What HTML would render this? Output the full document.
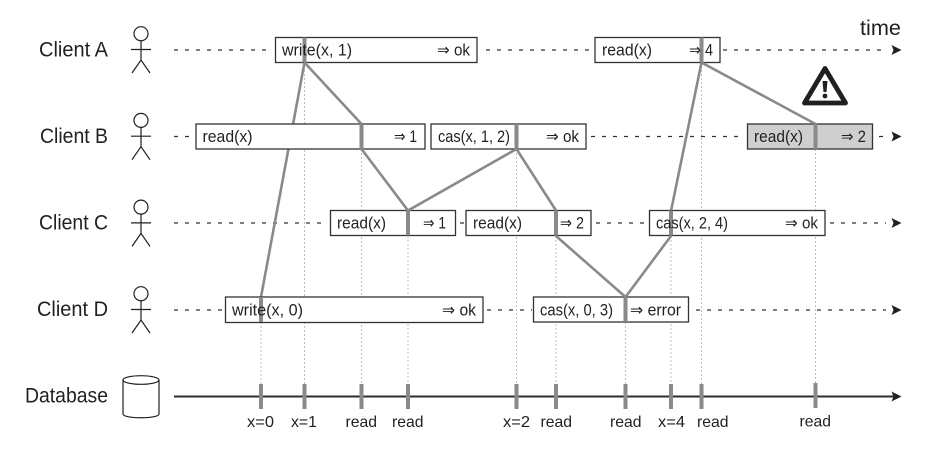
<!DOCTYPE html>
<html><head><meta charset="utf-8"><style>
html,body{margin:0;padding:0;background:#fff;width:925px;height:457px;overflow:hidden}
svg{display:block;filter:blur(0.35px)}
text{font-family:"Liberation Sans","DejaVu Sans",sans-serif;fill:#231f20}
.l{font-size:21px}
.b{font-size:16.5px}
.d{font-size:16px}
.box{fill:#fff;stroke:#333;stroke-width:1.3}
.dot{stroke:#bdbdbd;stroke-width:1;stroke-dasharray:2 2;fill:none}
.dash{stroke:#333;stroke-width:1.2;stroke-dasharray:4 7;fill:none}
.g{stroke:#8a8a8a;stroke-width:2.6;fill:none}
.t{fill:#8a8a8a}
.fig{stroke:#231f20;stroke-width:1.2;fill:none}
</style></head><body>
<svg width="925" height="457" viewBox="0 0 925 457" xmlns="http://www.w3.org/2000/svg">
<rect width="925" height="457" fill="#fff"/>

<!-- dotted -->
<path class="dot" d="M261 322V384M304.5 62V384M361.5 149V384M408 236V384M516.5 149V384M556 236V384M625.5 322V384M671 236V384M701.5 62V384M815.5 149V383"/>

<!-- dashed lifelines -->
<path class="dash" d="M174 50H272M486 50H592M723 50H886"/>
<path class="dash" d="M174 136.5H193M591 136.5H745M879 136.5H886"/>
<path class="dash" d="M174 223H328M460 223H464M596 223H648M830 223H886"/>
<path class="dash" d="M174 310H224M487 310H532M696 310H886"/>

<!-- arrowheads -->
<path d="M891.5 45L901.5 50L891.5 55L893.5 50Z" fill="#231f20"/>
<path d="M891.5 131.5L901.5 136.5L891.5 141.5L893.5 136.5Z" fill="#231f20"/>
<path d="M891.5 218L901.5 223L891.5 228L893.5 223Z" fill="#231f20"/>
<path d="M891.5 305L901.5 310L891.5 315L893.5 310Z" fill="#231f20"/>
<path d="M891.5 391.5L901.5 396.5L891.5 401.5L893.5 396.5Z" fill="#231f20"/>

<!-- database axis -->
<line x1="174" y1="396.5" x2="895" y2="396.5" stroke="#2f2b2b" stroke-width="1.9"/>

<!-- long line under boxes -->
<path class="g" d="M304.5 62.5L261 297"/>
<path class="g" d="M671 211L701.5 62.5"/>

<!-- boxes -->
<rect class="box" x="275.5" y="37.5" width="201.5" height="25"/>
<rect class="box" x="595" y="37.5" width="125" height="25"/>
<rect class="box" x="196" y="124" width="229" height="25"/>
<rect class="box" x="431" y="124" width="155" height="25"/>
<rect class="box" x="747.5" y="124" width="125" height="25" style="fill:#cfcfcf"/>
<rect class="box" x="330.5" y="210.5" width="125" height="25"/>
<rect class="box" x="466" y="210.5" width="125" height="25"/>
<rect class="box" x="649.5" y="210.5" width="175.5" height="25"/>
<rect class="box" x="225.5" y="297" width="257.5" height="25.5"/>
<rect class="box" x="533.5" y="297" width="155" height="25"/>

<!-- ticks in boxes -->
<rect class="t" x="302.5" y="37.5" width="4" height="25"/>
<rect class="t" x="699.5" y="37.5" width="4" height="25"/>
<rect class="t" x="359.5" y="124" width="4" height="25"/>
<rect class="t" x="514.5" y="124" width="4" height="25"/>
<rect class="t" x="813.5" y="124" width="4" height="25"/>
<rect class="t" x="406" y="210.5" width="4" height="25"/>
<rect class="t" x="554" y="210.5" width="4" height="25"/>
<rect class="t" x="669" y="210.5" width="4" height="25"/>
<rect class="t" x="259" y="297" width="4" height="25"/>
<rect class="t" x="623.5" y="297" width="4" height="25"/>

<!-- consistency lines -->
<path class="g" d="M304.5 62.5L361.5 124"/>
<path class="g" d="M361.5 149L408 210.5L516.5 149L556 210.5"/>
<path class="g" d="M556 236L625.5 297L671 236"/>
<path class="g" d="M701.5 62.5L815.5 124"/>

<!-- database ticks -->
<g class="t">
<rect x="259" y="384" width="4" height="25"/>
<rect x="302.5" y="384" width="4" height="25"/>
<rect x="359.5" y="384" width="4" height="25"/>
<rect x="406" y="384" width="4" height="25"/>
<rect x="514.5" y="384" width="4" height="25"/>
<rect x="554" y="384" width="4" height="25"/>
<rect x="623.5" y="384" width="4" height="25"/>
<rect x="669" y="384" width="4" height="25"/>
<rect x="699.5" y="384" width="4" height="25"/>
<rect x="813.5" y="383" width="4" height="25"/>
</g>

<!-- stick figures -->
<g class="fig">
<g><circle cx="141" cy="33.7" r="7"/><path d="M141 40.7V60M131 49.5H151M132 73L141 60L150 73"/></g>
<g transform="translate(0,86.7)"><circle cx="141" cy="33.7" r="7"/><path d="M141 40.7V60M131 49.5H151M132 73L141 60L150 73"/></g>
<g transform="translate(0,173.4)"><circle cx="141" cy="33.7" r="7"/><path d="M141 40.7V60M131 49.5H151M132 73L141 60L150 73"/></g>
<g transform="translate(0,260)"><circle cx="141" cy="33.7" r="7"/><path d="M141 40.7V60M131 49.5H151M132 73L141 60L150 73"/></g>
</g>

<!-- cylinder -->
<ellipse cx="141" cy="380" rx="18" ry="4.3" fill="none" stroke="#231f20" stroke-width="1.2"/>
<path d="M123 380V414C123 419 159 419 159 414V380" fill="none" stroke="#231f20" stroke-width="1.2"/>

<!-- warning -->
<path d="M825 68.5L804.5 103H845.5Z" fill="#fff" stroke="#231f20" stroke-width="4.8" stroke-linejoin="round"/>
<path d="M822.5 81H827.5L826.5 92H823.5Z" fill="#231f20"/>
<circle cx="825" cy="96" r="2.4" fill="#231f20"/>

<!-- row labels -->
<text class="l" x="39" y="56.5" textLength="69" lengthAdjust="spacingAndGlyphs">Client A</text>
<text class="l" x="40" y="143" textLength="68" lengthAdjust="spacingAndGlyphs">Client B</text>
<text class="l" x="39" y="229.5" textLength="69" lengthAdjust="spacingAndGlyphs">Client C</text>
<text class="l" x="37" y="316" textLength="71" lengthAdjust="spacingAndGlyphs">Client D</text>
<text class="l" x="25" y="402.5" textLength="83" lengthAdjust="spacingAndGlyphs">Database</text>
<text class="l" x="860" y="35" textLength="41" lengthAdjust="spacingAndGlyphs">time</text>

<!-- box text -->
<text class="b" x="282" y="55.5" textLength="70" lengthAdjust="spacingAndGlyphs">write(x, 1)</text>
<text class="b" x="437" y="55.5" textLength="33" lengthAdjust="spacingAndGlyphs">⇒ ok</text>
<text class="b" x="602" y="55.5" textLength="50" lengthAdjust="spacingAndGlyphs">read(x)</text>
<text class="b" x="689" y="55.5" textLength="24" lengthAdjust="spacingAndGlyphs">⇒ 4</text>

<text class="b" x="202.5" y="142" textLength="50" lengthAdjust="spacingAndGlyphs">read(x)</text>
<text class="b" x="394" y="142" textLength="23" lengthAdjust="spacingAndGlyphs">⇒ 1</text>
<text class="b" x="438" y="142" textLength="72" lengthAdjust="spacingAndGlyphs">cas(x, 1, 2)</text>
<text class="b" x="546" y="142" textLength="33" lengthAdjust="spacingAndGlyphs">⇒ ok</text>
<text class="b" x="754" y="142" textLength="49" lengthAdjust="spacingAndGlyphs">read(x)</text>
<text class="b" x="841" y="142" textLength="25" lengthAdjust="spacingAndGlyphs">⇒ 2</text>

<text class="b" x="337" y="228.5" textLength="49" lengthAdjust="spacingAndGlyphs">read(x)</text>
<text class="b" x="423" y="228.5" textLength="23" lengthAdjust="spacingAndGlyphs">⇒ 1</text>
<text class="b" x="473" y="228.5" textLength="49" lengthAdjust="spacingAndGlyphs">read(x)</text>
<text class="b" x="560" y="228.5" textLength="24" lengthAdjust="spacingAndGlyphs">⇒ 2</text>
<text class="b" x="656" y="228.5" textLength="72" lengthAdjust="spacingAndGlyphs">cas(x, 2, 4)</text>
<text class="b" x="785" y="228.5" textLength="33" lengthAdjust="spacingAndGlyphs">⇒ ok</text>

<text class="b" x="232" y="315.5" textLength="71" lengthAdjust="spacingAndGlyphs">write(x, 0)</text>
<text class="b" x="442" y="315.5" textLength="34" lengthAdjust="spacingAndGlyphs">⇒ ok</text>
<text class="b" x="540" y="315.5" textLength="73" lengthAdjust="spacingAndGlyphs">cas(x, 0, 3)</text>
<text class="b" x="630" y="315.5" textLength="51" lengthAdjust="spacingAndGlyphs">⇒ error</text>

<!-- axis labels -->
<text class="d" x="247" y="427" textLength="27" lengthAdjust="spacingAndGlyphs">x=0</text>
<text class="d" x="291" y="427" textLength="26" lengthAdjust="spacingAndGlyphs">x=1</text>
<text class="d" x="345.5" y="427" textLength="31.5" lengthAdjust="spacingAndGlyphs">read</text>
<text class="d" x="392" y="427" textLength="31.5" lengthAdjust="spacingAndGlyphs">read</text>
<text class="d" x="503" y="427" textLength="27" lengthAdjust="spacingAndGlyphs">x=2</text>
<text class="d" x="540.5" y="427" textLength="31.5" lengthAdjust="spacingAndGlyphs">read</text>
<text class="d" x="610" y="427" textLength="31.5" lengthAdjust="spacingAndGlyphs">read</text>
<text class="d" x="658" y="427" textLength="27" lengthAdjust="spacingAndGlyphs">x=4</text>
<text class="d" x="697" y="427" textLength="31.5" lengthAdjust="spacingAndGlyphs">read</text>
<text class="d" x="799.5" y="426.5" textLength="31.5" lengthAdjust="spacingAndGlyphs">read</text>
</svg>
</body></html>
